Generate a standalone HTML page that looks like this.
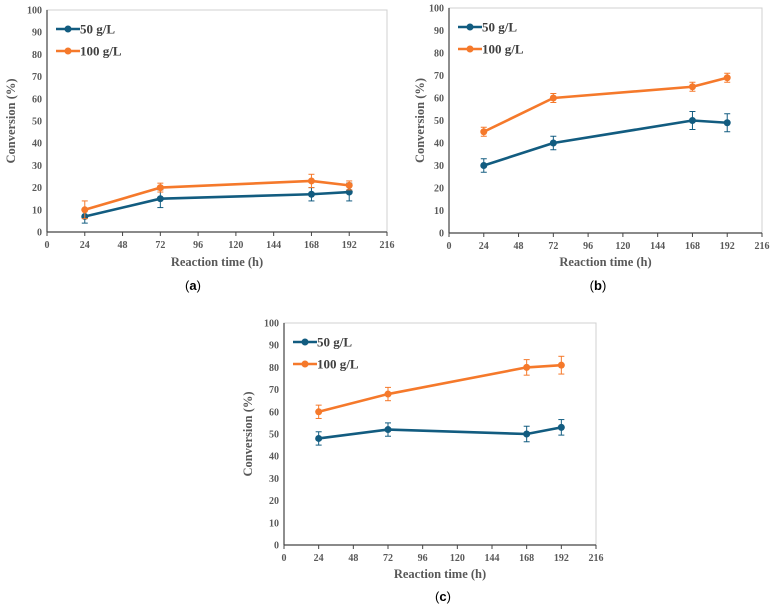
<!DOCTYPE html>
<html><head><meta charset="utf-8"><style>
html,body{margin:0;padding:0;background:#fff;}
svg{display:block;}
text{font-family:"Liberation Serif",serif;}
</style></head><body>
<svg id="fig" width="774" height="610" viewBox="0 0 774 610"></svg>
<script>
const xValues = [24, 72, 168, 192];
const xTicks = [0, 24, 48, 72, 96, 120, 144, 168, 192, 216];
const yTicks = [0, 10, 20, 30, 40, 50, 60, 70, 80, 90, 100];
const seriesNames = ["50 g/L", "100 g/L"];
const a50 = [7, 15, 17, 18];
const a50err = [3, 4, 3, 4];
const a100 = [10, 20, 23, 21];
const a100err = [4, 2, 3, 2];
const b50 = [30, 40, 50, 49];
const b50err = [3, 3, 4, 4];
const b100 = [45, 60, 65, 69];
const b100err = [2, 2, 2, 2];
const c50 = [48, 52, 50, 53];
const c50err = [3, 3, 3.5, 3.5];
const c100 = [60, 68, 80, 81];
const c100err = [3, 3, 3.5, 4];

const NS = "http://www.w3.org/2000/svg";
const svg = document.getElementById("fig");
const BLUE = "#125c80", ORANGE = "#f5792b";
function mk(tag, attrs, parent){
  const e = document.createElementNS(NS, tag);
  for (const k in attrs) e.setAttribute(k, attrs[k]);
  (parent || svg).appendChild(e);
  return e;
}
const panels = [
  {id:"a", x0:47, x1:387, y0:232, y1:10, ylab:11, xlabY:266, capY:290, capX:193, s:[[a50,a50err],[a100,a100err]]},
  {id:"b", x0:449, x1:762, y0:233, y1:8, ylab:420, xlabY:266, capY:290, capX:598, s:[[b50,b50err],[b100,b100err]]},
  {id:"c", x0:284, x1:596, y0:545, y1:323, ylab:248, xlabY:578, capY:601, capX:443, s:[[c50,c50err],[c100,c100err]]}
];
panels.forEach(p => {
  const g = mk("g", {});
  
  
  const X = v => p.x0 + (v / 216) * (p.x1 - p.x0);
  const Y = v => p.y0 - (v / 100) * (p.y0 - p.y1);
  const box = mk("rect", {x:p.x0, y:p.y1, width:p.x1-p.x0, height:p.y0-p.y1, fill:"none", stroke:"#d0d0d0", "stroke-width":1}, g);
  
  
  const yax = mk("line", {x1:p.x0, y1:p.y0, x2:p.x0, y2:p.y1, stroke:"#444", "stroke-width":1.2}, g);
  
  
  const xax = mk("line", {x1:p.x0, y1:p.y0, x2:p.x1, y2:p.y0, stroke:"#444", "stroke-width":1.2}, g);
  
  
  yTicks.forEach(t => {
    const tl = mk("text", {x:p.x0-5, y:Y(t)+3.5, "text-anchor":"end", "font-size":10, "font-weight":"bold", fill:"#595959"}, g);
    tl.textContent = t;
    
    
  });
  xTicks.forEach(t => {
    mk("line", {x1:X(t), y1:p.y0, x2:X(t), y2:p.y0+4, stroke:"#444", "stroke-width":1}, g);
    const tl = mk("text", {x:X(t), y:p.y0+16, "text-anchor":"middle", "font-size":10, "font-weight":"bold", fill:"#595959"}, g);
    tl.textContent = t;
    
    
  });
  const xl = mk("text", {x:(p.x0+p.x1)/2, y:p.xlabY, "text-anchor":"middle", "font-size":12.5, "font-weight":"bold", fill:"#595959"}, g);
  xl.textContent = "Reaction time (h)";
  
  
  const ym = (p.y0+p.y1)/2;
  const yl = mk("text", {x:p.ylab, y:ym, "text-anchor":"middle", "font-size":12.5, "font-weight":"bold", fill:"#595959", transform:`rotate(-90 ${p.ylab} ${ym})`, "dominant-baseline":"central"}, g);
  yl.textContent = "Conversion (%)";
  
  
  const cap = mk("text", {x:p.capX, y:p.capY, "text-anchor":"middle", "font-size":13, fill:"#000", style:'font-family:"Liberation Sans",sans-serif'}, g);
  cap.innerHTML = '(<tspan font-weight="bold">' + p.id + '</tspan>)';
  
  
  p.s.forEach((s, si) => {
    const col = si === 0 ? BLUE : ORANGE;
    const sg = mk("g", {}, g);
    
    
    const vals = s[0], errs = s[1];
    vals.forEach((v, i) => {
      const x = X(xValues[i]);
      mk("line", {x1:x, y1:Y(v-errs[i]), x2:x, y2:Y(v+errs[i]), stroke:col, "stroke-width":1}, sg);
      mk("line", {x1:x-3, y1:Y(v-errs[i]), x2:x+3, y2:Y(v-errs[i]), stroke:col, "stroke-width":1}, sg);
      mk("line", {x1:x-3, y1:Y(v+errs[i]), x2:x+3, y2:Y(v+errs[i]), stroke:col, "stroke-width":1}, sg);
    });
    const pts = vals.map((v, i) => X(xValues[i]) + "," + Y(v)).join(" ");
    const pl = mk("polyline", {points:pts, fill:"none", stroke:col, "stroke-width":2.6, "stroke-linejoin":"round"}, sg);
    
    
    vals.forEach((v, i) => {
      const c = mk("circle", {cx:X(xValues[i]), cy:Y(v), r:3.5, fill:col}, sg);
      
      
    });
    // legend
    const ly = p.y1 + 19 + si * 22;
    const lx = p.x0 + 9;
    const lg = mk("g", {}, g);
    
    
    mk("line", {x1:lx, y1:ly, x2:lx+24, y2:ly, stroke:col, "stroke-width":2.6}, lg);
    mk("circle", {cx:lx+12, cy:ly, r:3.5, fill:col}, lg);
    const lt = mk("text", {x:lx+24, y:ly+4.5, "font-size":13, "font-weight":"bold", fill:"#404040"}, lg);
    lt.textContent = seriesNames[si];
  });
});
</script>
</body></html>
